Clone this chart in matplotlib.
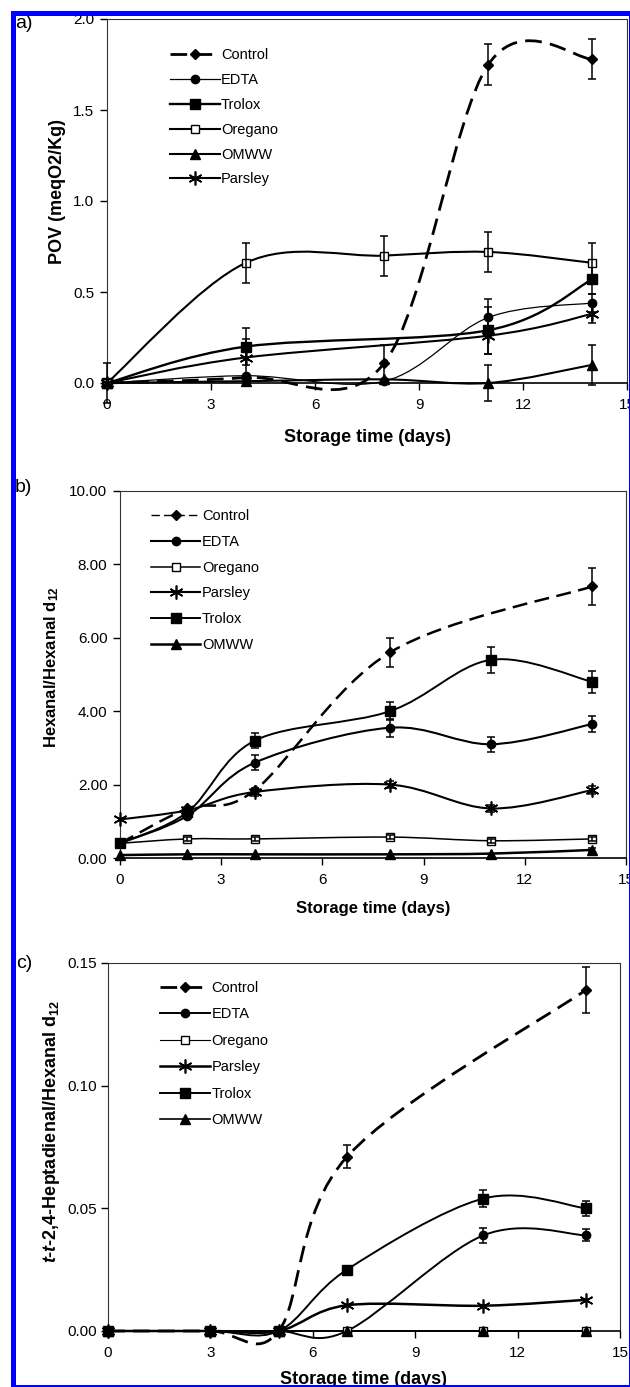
import numpy as np
import matplotlib
matplotlib.use("Agg")
import matplotlib.pyplot as plt
from matplotlib.path import Path
from matplotlib.patches import PathPatch, Rectangle
from matplotlib.lines import Line2D
from matplotlib.ticker import FormatStrFormatter

plt.rcParams['font.family'] = ['Liberation Sans', 'DejaVu Sans']
plt.rcParams['mathtext.fontset'] = 'custom'
plt.rcParams['mathtext.rm'] = 'Liberation Sans:bold'
plt.rcParams['mathtext.bf'] = 'Liberation Sans:bold'
plt.rcParams['mathtext.it'] = 'Liberation Sans:bold:italic'

W, H = 630, 1387

# ---- panel a: POV ----
days_a = [0, 4, 8, 11, 14]
days_a_short = [0, 4, 11, 14]
pov_control = [0.0, 0.03, 0.11, 1.75, 1.78]
pov_control_err = [0.11, 0, 0.10, 0.11, 0.11]
pov_edta = [0.0, 0.04, 0.01, 0.36, 0.44]
pov_edta_err = [0, 0, 0, 0.10, 0.05]
pov_trolox = [0.0, 0.20, 0.29, 0.57]
pov_trolox_err = [0, 0.10, 0.13, 0.08]
pov_oregano = [0.0, 0.66, 0.70, 0.72, 0.66]
pov_oregano_err = [0, 0.11, 0.11, 0.11, 0.11]
pov_omww = [0.0, 0.01, 0.02, 0.0, 0.10]
pov_omww_err = [0, 0, 0, 0.10, 0.11]
pov_parsley = [0.0, 0.14, 0.26, 0.38]
pov_parsley_err = [0, 0.10, 0.10, 0.05]

# ---- panel b: hexanal ----
days_b = [0, 2, 4, 8, 11, 14]
days_b_control = [0, 2, 4, 8, 14]
hex_control = [0.40, 1.35, 1.85, 5.60, 7.40]
hex_control_err = [0, 0, 0, 0.40, 0.50]
hex_edta = [0.40, 1.15, 2.60, 3.55, 3.10, 3.65]
hex_edta_err = [0, 0.05, 0.20, 0.25, 0.20, 0.22]
hex_oregano = [0.40, 0.52, 0.52, 0.57, 0.47, 0.52]
hex_oregano_err = [0, 0.05, 0.05, 0.05, 0.05, 0.05]
hex_parsley = [1.05, 1.30, 1.80, 2.00, 1.35, 1.85]
hex_parsley_err = [0, 0, 0.10, 0.10, 0.10, 0.10]
hex_trolox = [0.40, 1.25, 3.20, 4.00, 5.40, 4.80]
hex_trolox_err = [0, 0.10, 0.20, 0.25, 0.35, 0.30]
hex_omww = [0.08, 0.10, 0.10, 0.10, 0.12, 0.22]
hex_omww_err = [0, 0, 0, 0, 0, 0.05]

# ---- panel c: t-t-2,4-heptadienal ----
days_c = [0, 3, 5, 7, 11, 14]
days_c_control = [0, 3, 5, 7, 14]
hep_control = [0.0, 0.0, 0.0, 0.071, 0.139]
hep_control_err = [0, 0, 0, 0.0047, 0.0095]
hep_edta = [0.0, 0.0, 0.0, 0.0, 0.039, 0.039]
hep_edta_err = [0, 0, 0, 0, 0.003, 0.0025]
hep_oregano = [0.0, 0.0, 0.0, 0.0, 0.0, 0.0]
hep_parsley = [0.0, 0.0, 0.0, 0.0105, 0.0103, 0.0127]
hep_trolox = [0.0, 0.0, 0.0, 0.025, 0.054, 0.050]
hep_trolox_err = [0, 0, 0, 0, 0.0035, 0.003]
hep_omww = [0.0, 0.0, 0.0, 0.0, 0.0, 0.0]

ASTER = (6, 2, 0)
DASH = (0, (6, 3))


def smooth_path(xs, ys):
    # excel-like smoothed line as cubic bezier segments
    pts = np.column_stack([xs, ys]).astype(float)
    n = len(pts)
    verts = [pts[0]]
    codes = [Path.MOVETO]
    for i in range(n - 1):
        p0 = pts[i - 1] if i > 0 else pts[i]
        p1, p2 = pts[i], pts[i + 1]
        p3 = pts[i + 2] if i + 2 < n else pts[i + 1]
        verts += [p1 + (p2 - p0) / 6, p2 - (p3 - p1) / 6, p2]
        codes += [Path.CURVE4] * 3
    return Path(verts, codes)


def series(ax, x, y, err=None, marker='o', mfc='black', ms=6, lw=1.5, ls='-', mew=1.0):
    ax.add_patch(PathPatch(smooth_path(x, y), fill=False, ec='black', lw=lw,
                           ls=ls, clip_on=False, zorder=2))
    ax.plot(x, y, ls='none', marker=marker, ms=ms, mfc=mfc, mec='black',
            mew=mew, color='black', clip_on=False, zorder=3)
    if err is not None:
        xe = [a for a, e in zip(x, err) if e > 0]
        ye = [b for b, e in zip(y, err) if e > 0]
        ee = [e for e in err if e > 0]
        eb = ax.errorbar(xe, ye, yerr=ee, fmt='none', ecolor='black',
                         elinewidth=1.1, capsize=3, capthick=1.1, zorder=3)
        for art in eb.get_children():
            art.set_clip_on(False)
    return Line2D([], [], color='black', lw=lw, ls=ls, marker=marker, ms=ms,
                  mfc=mfc, mec='black', mew=mew)


def make_axes(fig, left, right, top, bottom):
    ax = fig.add_axes([left / W, 1 - bottom / H, (right - left) / W, (bottom - top) / H])
    for s in ['top', 'right', 'left']:
        ax.spines[s].set_linestyle((0, (2, 1)))
        ax.spines[s].set_color('#333333')
        ax.spines[s].set_linewidth(0.8)
    ax.spines['bottom'].set_linewidth(1.2)
    ax.set_xlim(0, 15)
    ax.set_xticks(range(0, 16, 3))
    ax.tick_params(axis='x', length=5, width=1, pad=6, labelsize=11)
    ax.tick_params(axis='y', length=5, width=1, pad=4, labelsize=11)
    ax.tick_params(top=False, right=False)
    return ax


def labels(ax, xlab, ylab, xl_y, yl_x, yl_y, size):
    ax.set_xlabel(xlab, fontsize=size, fontweight='bold', va='center')
    ax.xaxis.set_label_coords(0.5, xl_y)
    ax.set_ylabel(ylab, fontsize=size, fontweight='bold', va='center')
    ax.yaxis.set_label_coords(yl_x, yl_y)


def legend(ax, handles, names, fx, fy, spacing):
    ax.legend(handles, names, loc='upper left', bbox_to_anchor=(fx, fy),
              frameon=False, fontsize=10.5, borderpad=0, borderaxespad=0,
              handlelength=3.4, handletextpad=0.1, labelspacing=spacing)


fig = plt.figure(figsize=(W / 100, H / 100), dpi=100)

# panel a
ax = make_axes(fig, 107, 627, 19, 383)
h_control = series(ax, days_a, pov_control, pov_control_err, 'D', ms=5.5, lw=2.0, ls=DASH)
h_edta = series(ax, days_a, pov_edta, pov_edta_err, 'o', ms=6, lw=0.9)
h_trolox = series(ax, days_a_short, pov_trolox, pov_trolox_err, 's', ms=7, lw=1.7)
h_oregano = series(ax, days_a, pov_oregano, pov_oregano_err, 's', mfc='white', ms=6, lw=1.5)
h_omww = series(ax, days_a, pov_omww, pov_omww_err, '^', ms=7, lw=1.5)
h_parsley = series(ax, days_a_short, pov_parsley, pov_parsley_err, ASTER, ms=10, lw=1.5, mew=1.2)
ax.set_ylim(0, 2.0)
ax.set_yticks(np.arange(0, 2.01, 0.5))
ax.yaxis.set_major_formatter(FormatStrFormatter('%.1f'))
labels(ax, 'Storage time (days)', 'POV (meqO2/Kg)', -54 / 364, -50 / 520, 0.526, 13)
legend(ax, [h_control, h_edta, h_trolox, h_oregano, h_omww, h_parsley],
       ['Control', 'EDTA', 'Trolox', 'Oregano', 'OMWW', 'Parsley'], 0.121, 0.919, 0.74)
fig.text(33 / W, 1 - 24 / H, 'a)', fontsize=14, ha='right', va='center')

# panel b
ax = make_axes(fig, 120, 626, 491, 858)
h_control = series(ax, days_b_control, hex_control, hex_control_err, 'D', ms=5, lw=1.8, ls=DASH)
h_edta = series(ax, days_b, hex_edta, hex_edta_err, 'o', ms=6, lw=1.5)
h_oregano = series(ax, days_b, hex_oregano, hex_oregano_err, 's', mfc='white', ms=6, lw=1.1)
h_parsley = series(ax, days_b, hex_parsley, hex_parsley_err, ASTER, ms=10, lw=1.5, mew=1.2)
h_trolox = series(ax, days_b, hex_trolox, hex_trolox_err, 's', ms=6.5, lw=1.4)
h_omww = series(ax, days_b, hex_omww, hex_omww_err, '^', ms=6.5, lw=1.8)
ax.set_ylim(0, 10)
ax.set_yticks(np.arange(0, 10.01, 2))
ax.yaxis.set_major_formatter(FormatStrFormatter('%.2f'))
labels(ax, 'Storage time (days)', 'Hexanal/Hexanal d$_{12}$', -50 / 367, -68 / 506, 0.519, 12)
h_control_leg = Line2D([], [], color='black', lw=1.0, ls=DASH, marker='D', ms=5)
legend(ax, [h_control_leg, h_edta, h_oregano, h_parsley, h_trolox, h_omww],
       ['Control', 'EDTA', 'Oregano', 'Parsley', 'Trolox', 'OMWW'], 0.061, 0.95, 0.80)
fig.text(32 / W, 1 - 487 / H, 'b)', fontsize=14, ha='right', va='center')

# panel c
ax = make_axes(fig, 108, 620, 963, 1331)
h_control = series(ax, days_c_control, hep_control, hep_control_err, 'D', ms=5, lw=2.0, ls=DASH)
h_edta = series(ax, days_c, hep_edta, hep_edta_err, 'o', ms=6, lw=1.4)
h_oregano = series(ax, days_c, hep_oregano, None, 's', mfc='white', ms=6, lw=0.8)
h_parsley = series(ax, days_c, hep_parsley, None, ASTER, ms=10, lw=1.8, mew=1.2)
h_trolox = series(ax, days_c, hep_trolox, hep_trolox_err, 's', ms=6.5, lw=1.4)
h_omww = series(ax, days_c, hep_omww, None, '^', ms=6.5, lw=1.2)
ax.set_ylim(0, 0.15)
ax.set_yticks(np.arange(0, 0.151, 0.05))
ax.yaxis.set_major_formatter(FormatStrFormatter('%.2f'))
ax.tick_params(axis='y', pad=3)
labels(ax, 'Storage time (days)', r'$\mathit{t}$-$\mathit{t}$-2,4-Heptadienal/Hexanal d$_{12}$',
       -49 / 368, -56 / 512, 0.541, 13)
legend(ax, [h_control, h_edta, h_oregano, h_parsley, h_trolox, h_omww],
       ['Control', 'EDTA', 'Oregano', 'Parsley', 'Trolox', 'OMWW'], 0.102, 0.952, 0.86)
fig.text(32 / W, 1 - 963 / H, 'c)', fontsize=14, ha='right', va='center')

# blue frame around the whole figure
fig.add_artist(Rectangle((12.5 / W, 1 - 1386.5 / H), (630.5 - 12.5) / W, (1386.5 - 12.5) / H,
                         transform=fig.transFigure, fill=False, ec='#0000ff', lw=3.6,
                         zorder=100, clip_on=False))

fig.savefig('out.png', dpi=100)
